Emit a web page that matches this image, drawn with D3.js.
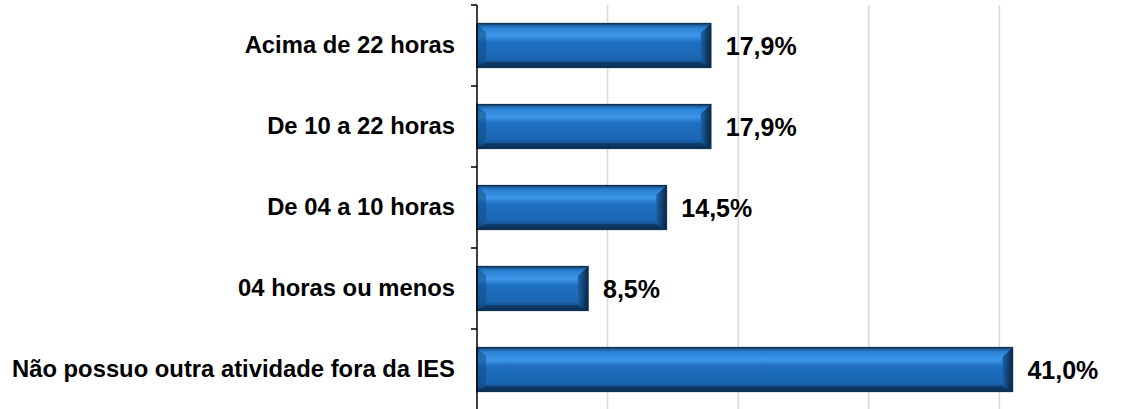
<!DOCTYPE html>
<html>
<head>
<meta charset="utf-8">
<script src="https://cdn.jsdelivr.net/npm/d3@7"></script>
<style>
  body { margin: 0; background: #fff; }
  text { font-family: "Liberation Sans", Arial, sans-serif; font-weight: bold; }
</style>
</head>
<body>
<script>
// data, top to bottom
var categories = ['Acima de 22 horas', 'De 10 a 22 horas', 'De 04 a 10 horas', '04 horas ou menos', 'Não possuo outra atividade fora da IES'];
var values = [17.9, 17.9, 14.5, 8.5, 41.0];
var gridTicks = [10, 20, 30, 40];

function draw() {
	var W = 1121, H = 409;
	var padL = 477, padT = 5, plotB = 410, plotR = 1130;
	var bev = 9;

	var svg = d3.select('body').append('svg')
		.attr('width', W)
		.attr('height', H);

	var x = d3.scaleLinear().domain([0, 50]).range([padL, plotR]);
	var y = d3.scaleBand().domain(categories).range([padT, plotB]).paddingInner(0.46).paddingOuter(0.23);

	var defs = svg.append('defs');
	var grad = defs.append('linearGradient').attr('id', 'barGrad')
		.attr('x1', 0).attr('y1', 0).attr('x2', 0).attr('y2', 1);
	grad.append('stop').attr('offset', '0%').attr('stop-color', '#174f86');
	grad.append('stop').attr('offset', '10%').attr('stop-color', '#2a82d3');
	grad.append('stop').attr('offset', '28%').attr('stop-color', '#3d97ea');
	grad.append('stop').attr('offset', '42%').attr('stop-color', '#1f70c2');
	grad.append('stop').attr('offset', '80%').attr('stop-color', '#1a65b2');
	grad.append('stop').attr('offset', '100%').attr('stop-color', '#0c3a66');

	var rgrad = defs.append('linearGradient').attr('id', 'endGrad')
		.attr('x1', 0).attr('y1', 0).attr('x2', 1).attr('y2', 0);
	rgrad.append('stop').attr('offset', '0%').attr('stop-color', '#1a5fa5');
	rgrad.append('stop').attr('offset', '100%').attr('stop-color', '#071f38');

	// gridlines
	svg.append('g').selectAll('line').data(gridTicks).enter().append('line')
		.attr('x1', d => x(d)).attr('x2', d => x(d))
		.attr('y1', padT).attr('y2', H)
		.attr('stroke', '#d9d9d9').attr('stroke-width', 1.5);

	// bars
	var bars = svg.append('g').selectAll('g').data(values).enter().append('g');

	bars.append('rect')
		.attr('x', x(0))
		.attr('y', (d, i) => y(categories[i]))
		.attr('width', d => x(d) - x(0))
		.attr('height', y.bandwidth())
		.attr('fill', 'url(#barGrad)');

	// bevel edges
	bars.each(function(d, i) {
		var g = d3.select(this);
		var x0 = x(0), x1 = x(d), y0 = y(categories[i]), y1 = y0 + y.bandwidth();
		var rb = 10;
		g.append('polygon')
			.attr('points', [[x0, y0], [x0 + bev, y0 + bev], [x0 + bev, y1 - bev], [x0, y1]].join(' '))
			.attr('fill', '#0f4a80').attr('opacity', 0.5);
		g.append('polygon')
			.attr('points', [[x0, y1], [x0 + bev, y1 - bev * 0.6], [x1 - rb, y1 - bev * 0.6], [x1, y1]].join(' '))
			.attr('fill', '#06223d').attr('opacity', 0.45);
		g.append('polygon')
			.attr('points', [[x1, y0], [x1 - rb, y0 + bev], [x1 - rb, y1 - bev * 0.6], [x1, y1]].join(' '))
			.attr('fill', 'url(#endGrad)').attr('opacity', 0.9);
		g.append('rect')
			.attr('x', x0).attr('y', y0).attr('width', x1 - x0).attr('height', y1 - y0)
			.attr('fill', 'none').attr('stroke', '#0e3354').attr('stroke-width', 1.5);
	});

	// value labels
	bars.append('text')
		.attr('x', d => x(d) + 15)
		.attr('y', (d, i) => y(categories[i]) + y.bandwidth() / 2)
		.attr('dy', '0.36em')
		.attr('font-size', 25)
		.attr('fill', '#000')
		.text(d => d.toFixed(1).replace('.', ',') + '%');

	// category axis
	var yAxis = svg.append('g')
		.attr('transform', 'translate(' + padL + ',0)')
		.call(d3.axisLeft(y).tickSize(0).tickPadding(22));
	yAxis.select('.domain').remove();
	yAxis.selectAll('text').attr('font-size', 23.8).attr('fill', '#000')
		.attr('font-family', '"Liberation Sans", Arial, sans-serif').attr('font-weight', 'bold');

	svg.append('line')
		.attr('x1', padL).attr('x2', padL).attr('y1', padT).attr('y2', H)
		.attr('stroke', '#000').attr('stroke-width', 1.5);

	// tick marks between categories
	var sep = d3.range(categories.length).map(i => padT + i * (plotB - padT) / categories.length);
	svg.append('g').selectAll('line').data(sep).enter().append('line')
		.attr('x1', padL - 6).attr('x2', padL)
		.attr('y1', d => d).attr('y2', d => d)
		.attr('stroke', '#000').attr('stroke-width', 1.5);
}
draw();
</script>
</body>
</html>
